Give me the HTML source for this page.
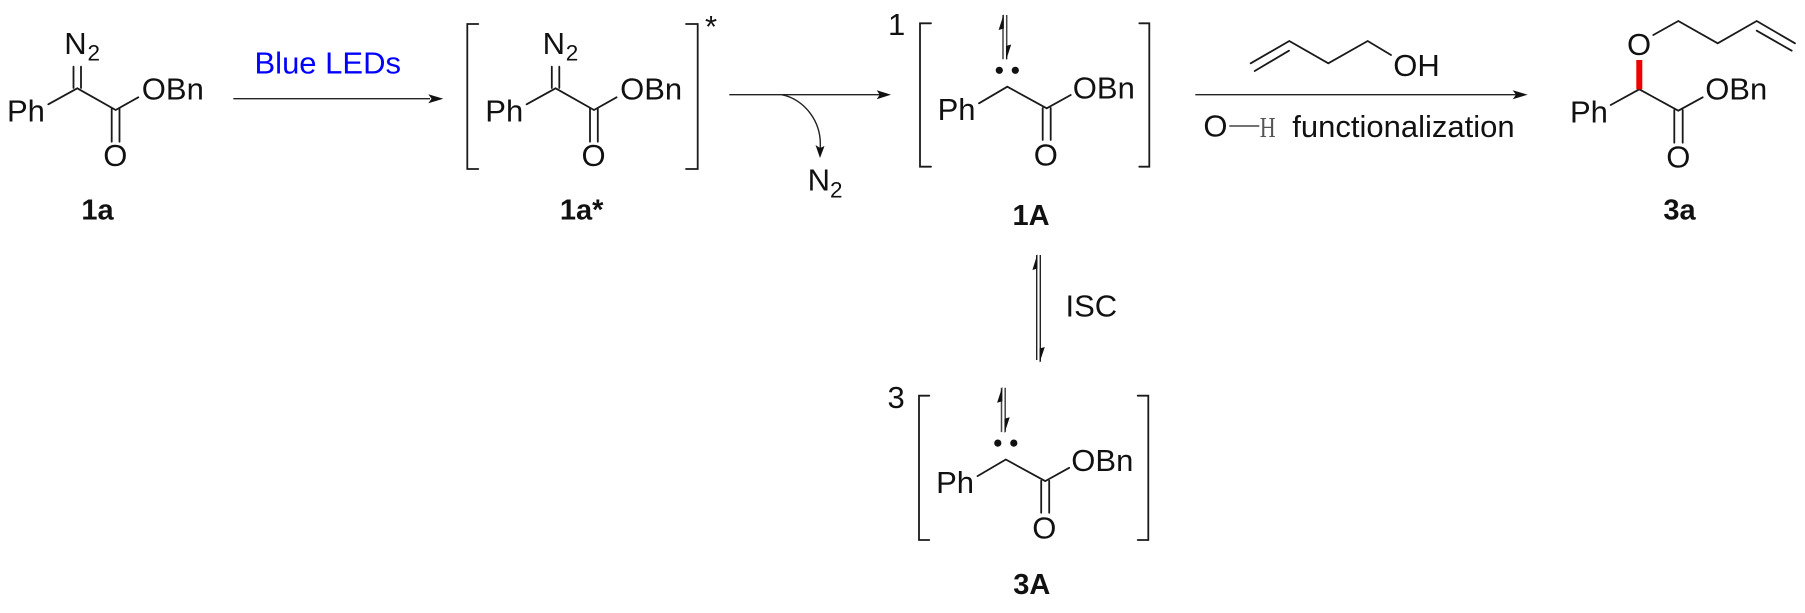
<!DOCTYPE html>
<html>
<head>
<meta charset="utf-8">
<style>
html,body{margin:0;padding:0;background:#fff;}
svg{display:block;}
text{font-family:"Liberation Sans",Arial,sans-serif;font-size:31px;fill:#111;}
.s{font-size:22.5px;}
.b{font-weight:bold;font-size:29px;text-anchor:middle;}
.l{stroke:#1a1a1a;stroke-width:1.8;fill:none;stroke-linecap:round;}
.a{stroke:#222;stroke-width:1.4;fill:none;}
.h{fill:#111;stroke:none;}
</style>
</head>
<body>
<svg width="1805" height="613" viewBox="0 0 1805 613" xmlns="http://www.w3.org/2000/svg">
<rect width="1805" height="613" fill="#fff"/>

<!-- 1a -->
<g id="m1">
<path class="l" d="M48.3 104.3L77.3 88.3L115.7 110L138.3 97.3M73.5 88V66.7M81 88V66.7M111.7 108V141.7M119.5 108V141.7"/>
<text x="7" y="121.7">Ph</text>
<text x="64.3" y="54">N</text>
<text class="s" x="87.5" y="60.7">2</text>
<text x="141.8" y="99.3">OBn</text>
<text x="103.2" y="166">O</text>
</g>
<text class="b" x="97.5" y="219.3">1a</text>

<!-- Blue LEDs arrow -->
<text x="254.5" y="73.3" style="fill:#0000ff;">Blue LEDs</text>
<path class="a" d="M233.3 98.7H430"/>
<path class="h" d="M443.3 98.7L428.3 94.2L431.5 98.7L428.3 103.2Z"/>

<!-- 1a* -->
<path class="l" d="M478.3 24H467.3V169H478.3M686 24H697.7V169H686"/>
<use href="#m1" x="478.3" y="0"/>
<text x="705" y="37">*</text>
<text class="b" x="581.7" y="219.3">1a*</text>

<!-- Arrow 2 -->
<path class="a" d="M729.3 94.7H880"/>
<path class="h" d="M891 94.7L876.7 90.2L879.7 94.7L876.7 99.2Z"/>
<path class="a" d="M781.7 94.7C804 99 823 122 820 150"/>
<path class="h" d="M820 158L815.5 145L820 148L824.5 146Z"/>
<text x="807.6" y="190.7">N</text>
<text class="s" x="830" y="197.3">2</text>

<!-- 1A -->
<text x="888" y="35">1</text>
<path class="l" d="M931 23.3H920V166.7H931M1139.3 23.3H1149.3V166.7H1139.3"/>
<g id="m2">
<path class="l" d="M979 103.3L1007.3 86.7L1046.7 108.3L1070.7 95M1042.7 108V140M1050.7 108V140"/>
<text x="937.6" y="120">Ph</text>
<text x="1072.8" y="98.3">OBn</text>
<text x="1033.7" y="165.7">O</text>
<circle class="h" cx="999.3" cy="70.3" r="3.6"/>
<circle class="h" cx="1015.3" cy="70.3" r="3.6"/>
<path class="a" style="stroke-width:1.5;stroke:#444" d="M1003 59.3V15M1006.7 15V59.3"/>
<path class="h" d="M1003.8 14L998.6 30L1003.8 28.5Z"/>
<path class="h" d="M1006 60.5L1011.2 44.5L1006 46Z"/>
</g>
<text class="b" x="1031" y="225">1A</text>

<!-- Arrow 3 -->
<path class="l" d="M1250.7 63.3L1289.3 41L1328.3 63.3L1367.7 41L1391 55M1254.7 71L1289 50.7"/>
<text x="1393.3" y="76">OH</text>
<path class="a" d="M1195.3 94.7H1516"/>
<path class="h" d="M1527.7 94.7L1512.7 90.2L1516 94.7L1512.7 99.2Z"/>
<text x="1203.4" y="136.7">O</text>
<path d="M1229.3 126H1259.3" stroke="#444" stroke-width="1.4"/>
<text x="1259.8" y="136.7" style="font-family:'Liberation Serif',serif;font-size:22px;fill:#555;font-weight:normal;transform-origin:1268px 136px;transform:scaleY(1.3)">H</text>
<text x="1292.3" y="137">functionalization</text>

<!-- 3a -->
<path class="l" d="M1610.7 105L1639.3 89.3L1678.3 110.7L1702.7 97.3M1674.3 110V142.7M1682.7 110V142.7"/>
<path d="M1639.3 60V89.3" stroke="#f00000" stroke-width="6" fill="none"/>
<path class="l" d="M1653.3 35L1678.3 21L1717.7 43.3L1756.7 21L1795 43.3M1756.7 30.7L1791.7 50.7"/>
<text x="1570" y="122.3">Ph</text>
<text x="1627" y="55">O</text>
<text x="1705.2" y="99.3">OBn</text>
<text x="1666.2" y="167.3">O</text>
<text class="b" x="1679.5" y="219.3">3a</text>

<!-- ISC -->
<path class="a" d="M1036.7 360V255M1040.3 255V361.7"/>
<path class="h" d="M1037.4 254L1032.4 270L1037.4 268.5Z"/>
<path class="h" d="M1039.6 362.5L1044.8 347L1039.6 348.5Z"/>
<text x="1065.5" y="316.7">ISC</text>

<!-- 3A -->
<text x="887.5" y="408">3</text>
<path class="l" d="M929.3 395.7H919V540H929.3M1137.7 395.7H1148.3V540H1137.7"/>
<use href="#m2" x="-1.5" y="372.8"/>
<text class="b" x="1031.8" y="594">3A</text>
</svg>
</body>
</html>
